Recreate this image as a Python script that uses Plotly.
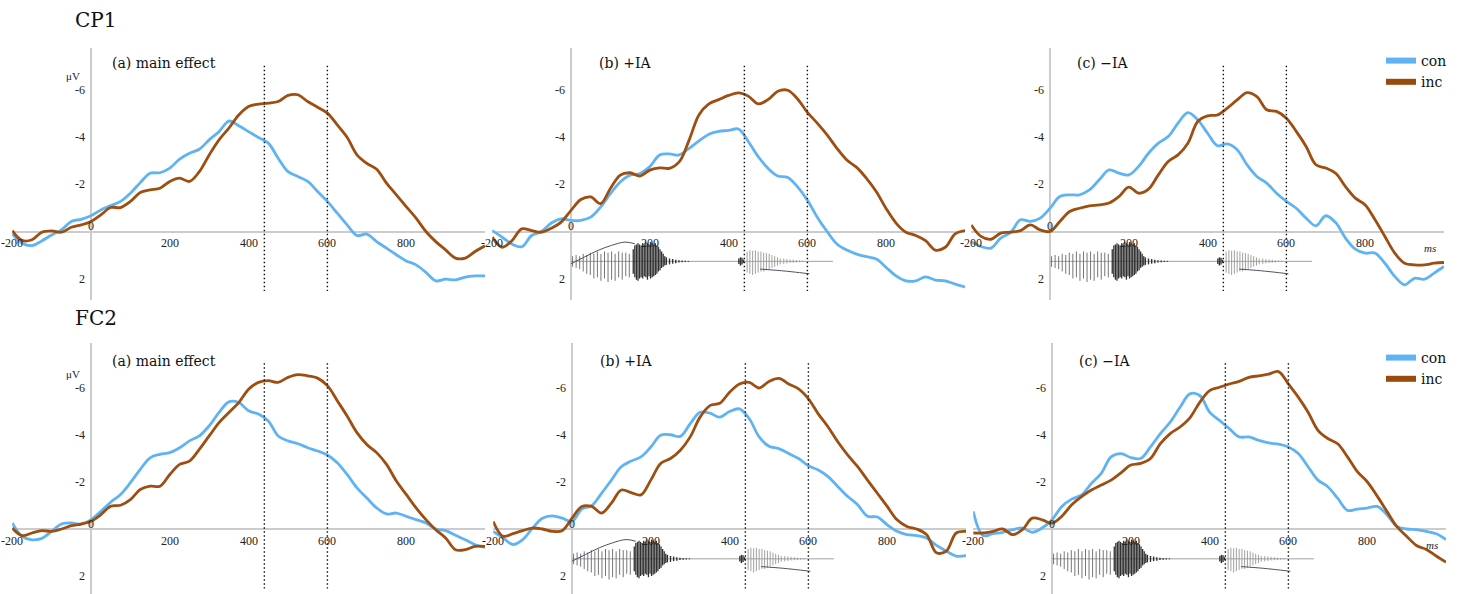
import plotly.graph_objects as go

# ---------------- data (µV, time in ms) ----------------
t_ms = list(range(-200, 1001, 25))

cp1_main_con = [0.1, 0.5, 0.6, 0.4, 0.15, -0.07, -0.43, -0.52, -0.67, -0.92, -1.1, -1.28, -1.63, -2.08, -2.48, -2.5,
                -2.7, -3.08, -3.33, -3.5, -3.9, -4.25, -4.7, -4.5, -4.25, -4.0, -3.76, -3.12, -2.55, -2.34, -2.13, -1.7,
                -1.28, -0.78, -0.28, 0.17, 0.11, 0.43, 0.71, 0.99, 1.25, 1.42, 1.74, 2.1, 2.03, 2.06, 1.94, 1.89, 1.89]
cp1_main_inc = [-0.04, 0.38, 0.35, 0.03, -0.03, 0.03, -0.18, -0.28, -0.43, -0.71, -1.02, -1.02, -1.28, -1.66, -1.77, -1.84,
                -2.13, -2.27, -2.13, -2.55, -3.26, -3.9, -4.4, -4.96, -5.32, -5.42, -5.46, -5.53, -5.79, -5.82, -5.53, -5.29,
                -5.04, -4.54, -4.01, -3.26, -2.9, -2.65, -2.06, -1.56, -1.06, -0.57, 0.0, 0.43, 0.78, 1.13, 1.13, 0.85, 0.61]
cp1_pos_con = [-0.04, 0.24, 0.53, 0.65, 0.17, 0.0, -0.36, -0.54, -0.47, -0.47, -0.61, -1.04, -1.61, -2.11, -2.4, -2.47,
               -2.76, -3.26, -3.3, -3.26, -3.54, -3.86, -4.14, -4.26, -4.3, -4.36, -3.83, -3.19, -2.69, -2.36, -2.3, -1.9,
               -1.33, -0.61, 0.0, 0.53, 0.79, 0.96, 1.07, 1.17, 1.53, 1.89, 2.1, 2.1, 1.93, 2.07, 2.1, 2.24, 2.36]
cp1_pos_inc = [0.24, 0.67, 0.39, -0.11, -0.04, 0.03, -0.14, -0.4, -0.9, -1.36, -1.47, -1.19, -1.83, -2.4, -2.5, -2.36,
               -2.61, -2.71, -2.69, -2.97, -3.9, -4.97, -5.43, -5.61, -5.79, -5.9, -5.76, -5.43, -5.61, -5.97, -6.01, -5.64,
               -5.07, -4.61, -4.11, -3.54, -3.04, -2.73, -2.26, -1.69, -0.97, -0.36, 0.03, 0.17, 0.39, 0.79, 0.67, 0.1, -0.04]
cp1_neg_con = [0.43, 0.64, 0.71, 0.28, 0.04, -0.5, -0.43, -0.57, -0.99, -1.49, -1.56, -1.56, -1.77, -2.2, -2.62, -2.48,
               -2.41, -2.77, -3.33, -3.76, -4.04, -4.61, -5.06, -4.75, -4.18, -3.65, -3.73, -3.48, -2.84, -2.34, -2.06, -1.63,
               -1.28, -0.99, -0.57, -0.24, -0.67, -0.38, 0.28, 0.75, 0.92, 0.92, 1.35, 1.91, 2.27, 1.99, 2.03, 1.77, 1.49]
cp1_neg_inc = [-0.28, 0.21, 0.33, 0.07, 0.03, -0.04, -0.28, -0.07, 0.0, -0.43, -0.85, -0.99, -1.09, -1.13, -1.21, -1.49,
               -1.89, -1.63, -1.8, -2.41, -2.98, -3.26, -3.76, -4.68, -4.92, -4.96, -5.25, -5.6, -5.91, -5.74, -5.18, -5.11,
               -4.82, -4.26, -3.62, -2.84, -2.7, -2.48, -1.91, -1.42, -1.13, -0.5, 0.21, 0.92, 1.35, 1.42, 1.42, 1.35, 1.32]

fc2_main_con = [-0.26, 0.31, 0.46, 0.4, 0.1, -0.21, -0.26, -0.21, -0.4, -0.75, -1.14, -1.47, -1.97, -2.54, -3.03, -3.18,
                -3.25, -3.46, -3.75, -3.96, -4.39, -4.96, -5.41, -5.38, -5.03, -4.89, -4.6, -3.96, -3.75, -3.63, -3.46, -3.32,
                -3.15, -2.82, -2.32, -1.75, -1.32, -0.9, -0.64, -0.68, -0.54, -0.4, -0.26, 0.0, 0.07, 0.27, 0.46, 0.67, 0.78]
fc2_main_inc = [-0.04, 0.28, 0.17, 0.07, 0.1, 0.0, -0.14, -0.21, -0.33, -0.61, -0.97, -1.01, -1.25, -1.68, -1.82, -1.82,
                -2.32, -2.75, -2.89, -3.39, -3.96, -4.53, -4.96, -5.38, -5.95, -6.24, -6.31, -6.24, -6.45, -6.57, -6.52, -6.42,
                -6.1, -5.46, -4.81, -4.1, -3.6, -3.25, -2.75, -2.04, -1.47, -0.9, -0.4, 0.03, 0.38, 0.88, 0.88, 0.74, 0.74]
fc2_pos_con = [0.1, 0.38, 0.66, 0.45, -0.04, -0.46, -0.56, -0.46, -0.32, -0.85, -0.99, -1.52, -2.08, -2.65, -2.89, -3.07,
               -3.49, -3.99, -4.01, -3.94, -4.48, -4.97, -4.93, -4.76, -5.0, -5.11, -4.69, -3.92, -3.52, -3.42, -3.21, -3.0,
               -2.69, -2.51, -2.23, -1.8, -1.38, -1.03, -0.54, -0.51, -0.18, 0.1, 0.24, 0.28, 0.38, 0.7, 0.94, 1.15, 1.13]
fc2_pos_inc = [-0.32, 0.31, 0.2, 0.07, -0.04, 0.0, 0.1, 0.07, -0.46, -0.96, -0.96, -0.68, -1.1, -1.66, -1.55, -1.45,
               -2.08, -2.79, -3.0, -3.35, -3.92, -4.76, -5.25, -5.35, -5.82, -6.17, -6.24, -6.0, -6.28, -6.41, -6.17, -5.96,
               -5.54, -4.9, -4.34, -3.7, -3.14, -2.65, -2.08, -1.52, -0.96, -0.39, -0.11, 0.0, 0.24, 1.01, 0.94, 0.17, 0.1]
fc2_neg_con = [-0.75, 0.28, 0.2, 0.14, 0.03, -0.04, 0.14, -0.04, -0.39, -0.96, -1.27, -1.45, -1.94, -2.37, -3.07, -3.21,
               -3.04, -3.0, -3.49, -4.06, -4.55, -5.18, -5.75, -5.68, -4.97, -4.62, -4.27, -3.92, -3.92, -3.77, -3.66, -3.61,
               -3.49, -3.21, -2.65, -2.08, -1.8, -1.31, -0.79, -0.85, -0.89, -0.96, -0.61, -0.11, 0.0, 0.03, 0.1, 0.2, 0.45]
fc2_neg_inc = [0.17, 0.17, 0.1, 0.0, 0.24, 0.03, -0.46, -0.39, -0.25, -0.54, -1.03, -1.38, -1.66, -1.87, -2.08, -2.39,
               -2.72, -2.79, -3.0, -3.63, -4.06, -4.34, -4.73, -5.39, -5.89, -6.03, -6.17, -6.28, -6.45, -6.52, -6.59, -6.7,
               -6.17, -5.61, -4.97, -4.2, -3.85, -3.63, -3.07, -2.44, -2.01, -1.41, -0.75, -0.11, 0.31, 0.7, 0.87, 1.15, 1.41]

electrodes = ["CP1", "FC2"]
conditions = ["(a) main effect", "(b) +IA", "(c) \u2212IA"]
series = {
    ("CP1", 0): (cp1_main_con, cp1_main_inc),
    ("CP1", 1): (cp1_pos_con, cp1_pos_inc),
    ("CP1", 2): (cp1_neg_con, cp1_neg_inc),
    ("FC2", 0): (fc2_main_con, fc2_main_inc),
    ("FC2", 1): (fc2_pos_con, fc2_pos_inc),
    ("FC2", 2): (fc2_neg_con, fc2_neg_inc),
}
legend_names = ["con", "inc"]

x_tick_vals = [-200, 200, 400, 600, 800]
y_tick_vals = [-6, -4, -2, 2]
window_ms = [440, 600]

# stimulus waveform sketch (in the panel's µV units)
wave_start, wave_end, wave_base = 0, 665, 1.27
pulse_t = [4, 13, 22, 31, 40, 49, 58, 67, 76, 85, 94, 103, 112, 121, 130, 139, 148]
pulse_top = [1.05, 1.0, 1.05, 0.95, 1.0, 0.9, 0.95, 0.85, 0.95, 0.85, 0.9, 0.85, 0.95, 0.85, 0.9, 0.9, 0.95]
pulse_bot = [1.5, 1.55, 1.6, 1.7, 1.8, 1.85, 2.0, 1.95, 2.1, 2.0, 2.15, 2.05, 2.1, 1.95, 2.05, 1.9, 1.95]
burst_t = [158, 162, 166, 170, 174, 178, 182, 186, 190, 194, 198, 202, 206, 210, 214, 218, 222, 226, 230, 234, 238]
burst_top = [0.75, 0.6, 0.55, 0.5, 0.55, 0.6, 0.5, 0.55, 0.45, 0.5, 0.55, 0.45, 0.5, 0.55, 0.5, 0.6, 0.65, 0.75, 0.85, 0.95, 1.05]
burst_bot = [1.8, 1.95, 2.05, 2.1, 2.0, 1.95, 2.0, 1.9, 1.95, 2.05, 1.9, 2.0, 1.95, 1.9, 1.85, 1.8, 1.7, 1.65, 1.55, 1.5, 1.45]
tail_t = [242, 250, 258, 266, 274, 282, 290, 298, 426, 430, 434, 438]
tail_top = [1.1, 1.15, 1.17, 1.2, 1.22, 1.23, 1.24, 1.25, 1.15, 1.1, 1.12, 1.2]
tail_bot = [1.42, 1.4, 1.37, 1.35, 1.32, 1.31, 1.3, 1.29, 1.38, 1.45, 1.4, 1.33]
vowel2_t = [447, 454, 461, 468, 475, 482, 489, 496, 503, 510, 517, 524, 531, 540, 548, 556, 564, 572, 580, 588]
vowel2_top = [0.85, 0.8, 0.82, 0.8, 0.85, 0.85, 0.9, 0.92, 0.95, 1.0, 1.05, 1.1, 1.15, 1.15, 1.17, 1.19, 1.2, 1.22, 1.23, 1.24]
vowel2_bot = [1.75, 1.8, 1.85, 1.8, 1.75, 1.7, 1.7, 1.65, 1.6, 1.55, 1.5, 1.45, 1.4, 1.38, 1.36, 1.34, 1.33, 1.32, 1.3, 1.29]
rise_t = [0, 35, 69, 103, 137, 162]
rise_v = [1.37, 1.08, 0.8, 0.59, 0.45, 0.52]
fall_t = [480, 535, 580, 605]
fall_v = [1.6, 1.67, 1.75, 1.8]

# ---------------- layout geometry ----------------
W, H = 1461, 594
PX_PER_MS = 0.394
PX_PER_UV = 23.5
X_MIN, X_MAX = -200, 1000
rows = {  # top, bottom, zero-line pixel rows
    "CP1": (48, 300, 231.5),
    "FC2": (343, 594, 529),
}
zero_x = {  # pixel column of t=0 per row/panel
    "CP1": [91, 571, 1050],
    "FC2": [91, 572, 1052],
}
label_t = [48, 66, 63]
COL_CON = "#60b3f3"
COL_INC = "#9d4e10"
SERIF = "DejaVu Serif"
TICKFONT = dict(family="Liberation Serif", size=12, color="#222")

fig = go.Figure()
layout = dict(
    width=W, height=H, margin=dict(l=0, r=0, t=0, b=0),
    paper_bgcolor="white", plot_bgcolor="rgba(0,0,0,0)",
    showlegend=True,
)
annotations = []
shapes = []


def seg_xy(ts, tops, bots):
    xs, ys = [], []
    for tt, a, b in zip(ts, tops, bots):
        xs += [tt, tt, None]
        ys += [a, b, None]
    return xs, ys


k = 0
for ei, el in enumerate(electrodes):
    top_px, bot_px, zero_px = rows[el]
    y_range = [(bot_px - zero_px) / PX_PER_UV, -(zero_px - top_px) / PX_PER_UV]
    for ci, cond in enumerate(conditions):
        k += 1
        xa = "x" if k == 1 else f"x{k}"
        ya = "y" if k == 1 else f"y{k}"
        xkey = "xaxis" if k == 1 else f"xaxis{k}"
        ykey = "yaxis" if k == 1 else f"yaxis{k}"
        x0 = zero_x[el][ci]
        xd = [(x0 + X_MIN * PX_PER_MS) / W, (x0 + X_MAX * PX_PER_MS) / W]
        yd = [1 - bot_px / H, 1 - top_px / H]
        layout[xkey] = dict(domain=xd, range=[X_MIN, X_MAX], anchor=ya, showgrid=False,
                            zeroline=True, zerolinecolor="#cccccc", zerolinewidth=2,
                            showticklabels=False, ticks="", showline=False, fixedrange=True)
        layout[ykey] = dict(domain=yd, range=y_range, anchor=xa, showgrid=False,
                            zeroline=True, zerolinecolor="#cccccc", zerolinewidth=2,
                            showticklabels=False, ticks="", showline=False, fixedrange=True)

        # stimulus waveform in (b) and (c)
        if ci > 0:
            fig.add_trace(go.Scatter(x=[wave_start, wave_end], y=[wave_base, wave_base], xaxis=xa, yaxis=ya,
                                     mode="lines", line=dict(color="#8a8a8a", width=0.8),
                                     showlegend=False, hoverinfo="skip"))
            sx, sy = seg_xy(pulse_t, pulse_top, pulse_bot)
            fig.add_trace(go.Scatter(x=sx, y=sy, xaxis=xa, yaxis=ya, mode="lines",
                                     line=dict(color="#666666", width=0.9), showlegend=False, hoverinfo="skip"))
            sx, sy = seg_xy(burst_t, burst_top, burst_bot)
            fig.add_trace(go.Scatter(x=sx, y=sy, xaxis=xa, yaxis=ya, mode="lines",
                                     line=dict(color="#303030", width=1.3), showlegend=False, hoverinfo="skip"))
            sx, sy = seg_xy(tail_t, tail_top, tail_bot)
            fig.add_trace(go.Scatter(x=sx, y=sy, xaxis=xa, yaxis=ya, mode="lines",
                                     line=dict(color="#333333", width=1.4), showlegend=False, hoverinfo="skip"))
            sx, sy = seg_xy(vowel2_t, vowel2_top, vowel2_bot)
            fig.add_trace(go.Scatter(x=sx, y=sy, xaxis=xa, yaxis=ya, mode="lines",
                                     line=dict(color="#959595", width=0.9), showlegend=False, hoverinfo="skip"))
            if ci == 1:
                fig.add_trace(go.Scatter(x=rise_t, y=rise_v, xaxis=xa, yaxis=ya, mode="lines",
                                         line=dict(color="#4a5266", width=1, shape="spline"),
                                         showlegend=False, hoverinfo="skip"))
            fig.add_trace(go.Scatter(x=fall_t, y=fall_v, xaxis=xa, yaxis=ya, mode="lines",
                                     line=dict(color="#4a5266", width=1, shape="spline"),
                                     showlegend=False, hoverinfo="skip"))

        con, inc = series[(el, ci)]
        fig.add_trace(go.Scatter(x=t_ms, y=con, xaxis=xa, yaxis=ya, mode="lines", name="con",
                                 line=dict(color=COL_CON, width=2.8, shape="spline", smoothing=1.0),
                                 showlegend=False))
        fig.add_trace(go.Scatter(x=t_ms, y=inc, xaxis=xa, yaxis=ya, mode="lines", name="inc",
                                 line=dict(color=COL_INC, width=2.8, shape="spline", smoothing=1.0),
                                 showlegend=False))

        # analysis window (dotted lines)
        for w in window_ms:
            shapes.append(dict(type="line", xref=xa, yref=ya, x0=w, x1=w, y0=-7.05, y1=2.53,
                               line=dict(color="#111", width=1.4, dash="1.4px,2.6px")))

        # tick labels
        for v in y_tick_vals:
            annotations.append(dict(x=0, y=v, xref=xa, yref=ya, text=str(v), showarrow=False,
                                    xanchor="right", yanchor="middle", xshift=-4, font=TICKFONT))
        annotations.append(dict(x=0, y=0, xref=xa, yref=ya, text="0", showarrow=False,
                                xanchor="center", yanchor="middle", yshift=5, font=TICKFONT))
        for v in x_tick_vals:
            annotations.append(dict(x=v, y=0, xref=xa, yref=ya, text=str(v), showarrow=False,
                                    xanchor="center", yanchor="top", yshift=-3, font=TICKFONT))
        # panel label
        annotations.append(dict(x=label_t[ci], y=-7.15, xref=xa, yref=ya, text=cond, showarrow=False,
                                xanchor="left", yanchor="middle",
                                font=dict(family=SERIF, size=14, color="#111")))
        if ci == 0:
            annotations.append(dict(x=0, y=-6.6, xref=xa, yref=ya, text="\u03bcV", showarrow=False,
                                    xanchor="right", yanchor="middle", xshift=-9,
                                    font=dict(family="Liberation Serif", size=11, color="#222")))
        if ci == 2:
            annotations.append(dict(x=965, y=0.7, xref=xa, yref=ya, text="<i>ms</i>", showarrow=False,
                                    xanchor="center", yanchor="middle",
                                    font=dict(family="Liberation Serif", size=11, color="#222")))
        # legend entries (one legend per electrode row)
        if ci == 2:
            lg = "legend" if ei == 0 else "legend2"
            for nm, col in zip(legend_names, [COL_CON, "#9a4a0a"]):
                fig.add_trace(go.Scatter(x=[None], y=[None], xaxis=xa, yaxis=ya, mode="lines", name=nm,
                                         line=dict(color=col, width=6), legend=lg, showlegend=True))

    # electrode title
    annotations.append(dict(x=73 / W, y=1 - (20 if ei == 0 else 318) / H, xref="paper", yref="paper",
                            text=el, showarrow=False, xanchor="left", yanchor="middle",
                            font=dict(family=SERIF, size=20, color="#111")))

leg_common = dict(xanchor="right", yanchor="top", bgcolor="rgba(0,0,0,0)", borderwidth=0,
                  font=dict(family=SERIF, size=14, color="#111"), tracegroupgap=0, itemwidth=30)
layout["legend"] = dict(x=1452 / W, y=1 - 45 / H, **leg_common)
layout["legend2"] = dict(x=1452 / W, y=1 - 342 / H, **leg_common)
layout["annotations"] = annotations
layout["shapes"] = shapes
fig.update_layout(**layout)
fig.write_html("out.html", config={"displayModeBar": False},
               post_script="document.body.style.margin='0px';document.body.style.overflow='hidden';")
